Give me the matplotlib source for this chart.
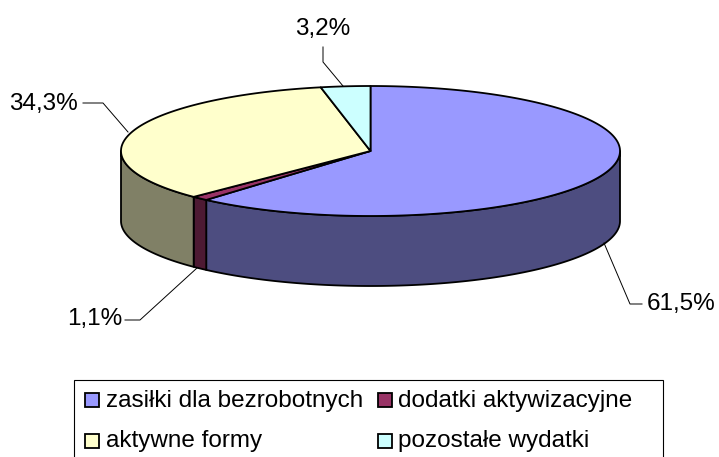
import numpy as np
import matplotlib
matplotlib.use('Agg')
import matplotlib.pyplot as plt
from matplotlib.patches import Polygon, Rectangle

plt.rcParams['font.family'] = ['Liberation Sans', 'DejaVu Sans']

categories = ['zasiłki dla bezrobotnych', 'dodatki aktywizacyjne', 'aktywne formy', 'pozostałe wydatki']
shares = [61.5, 1.1, 34.3, 3.2]
share_labels = ['61,5%', '1,1%', '34,3%', '3,2%']
top_colors = ['#9999FF', '#993366', '#FFFFCC', '#CCFFFF']
side_colors = ['#4D4D80', '#4D1A33', '#808066', '#668080']

# pie geometry in image pixels
CX, CY = 370.5, 151
RX, RY = 249.5, 65
DEPTH = 70
LW = 1.3


def rim(t0, t1, drop=0):
    # t runs clockwise from the top of the ellipse, degrees
    n = max(int(abs(t1 - t0)) * 2, 2)
    t = np.radians(np.linspace(t0, t1, n))
    return np.column_stack([CX + RX * np.sin(t), CY - RY * np.cos(t) + drop])


fig = plt.figure(figsize=(7.19, 4.57), dpi=100)
ax = fig.add_axes([0, 0, 1, 1])
ax.set_xlim(0, 719)
ax.set_ylim(457, 0)
ax.axis('off')

edges = np.concatenate([[0], np.cumsum(shares)]) / np.sum(shares) * 360

# the side wall, only the part facing us (90..270)
for i in range(len(shares)):
    a, b = np.clip(edges[i], 90, 270), np.clip(edges[i + 1], 90, 270)
    if b > a:
        pts = np.vstack([rim(a, b), rim(b, a, DEPTH)])
        ax.add_patch(Polygon(pts, closed=True, fc=side_colors[i], ec='black', lw=LW, joinstyle='round'))

# top of the pie
for i in range(len(shares)):
    pts = np.vstack([[CX, CY], rim(edges[i], edges[i + 1])])
    ax.add_patch(Polygon(pts, closed=True, fc=top_colors[i], ec='black', lw=LW, joinstyle='round'))

# leader lines and labels
leaders = [
    ([642, 630, 604], [304, 304, 243]),
    ([125, 140, 197], [320, 320, 268]),
    ([83, 103, 128], [103, 103, 132]),
    ([323, 323, 343], [47, 62, 86]),
]
label_pos = [(681, 304), (95, 319), (43, 104), (323, 29)]
for i in range(len(shares)):
    ax.plot(leaders[i][0], leaders[i][1], color='black', lw=0.7)
    ax.text(label_pos[i][0], label_pos[i][1], share_labels[i], fontsize=17.5, ha='center', va='center', color='black')

# legend box, cut by the bottom of the image
ax.add_patch(Rectangle((73.5, 379.5), 589, 90, fc='white', ec='black', lw=0.8))
swatch_x = [85, 378, 85, 378]
swatch_y = [393, 393, 434, 434]
for i in range(len(categories)):
    ax.add_patch(Rectangle((swatch_x[i], swatch_y[i]), 14, 14, fc=top_colors[i], ec='black', lw=1.3))
    ax.text(swatch_x[i] + 20.5, swatch_y[i] + 7.5, categories[i], fontsize=17.5, ha='left', va='center', color='black')

fig.savefig('out.png', dpi=100)
